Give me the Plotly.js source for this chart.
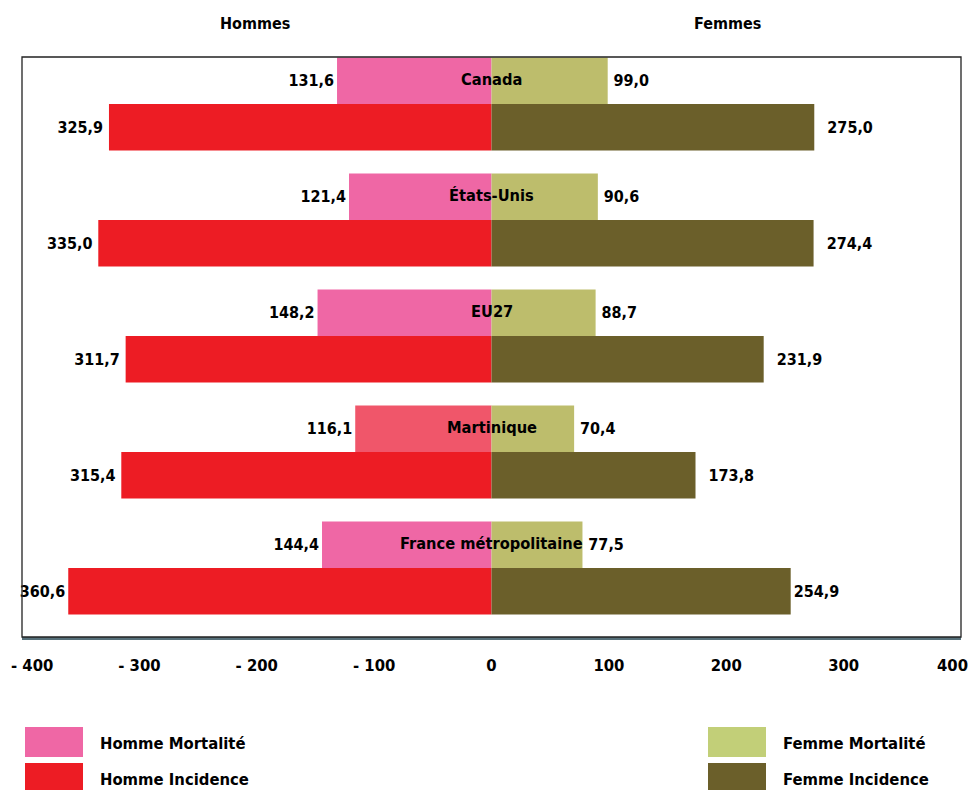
<!DOCTYPE html>
<html>
<head>
<meta charset="utf-8">
<script src="https://cdn.plot.ly/plotly-3.0.1.min.js"></script>
<style>html,body{margin:0;padding:0;background:#fff;}#chart{width:976px;height:790px;}</style>
</head>
<body>
<div id="chart"></div>
<script>
const countries = ["Canada", "États-Unis", "EU27", "Martinique", "France métropolitaine"];
const hommeMortalite = [131.6, 121.4, 148.2, 116.1, 144.4];
const hommeIncidence = [325.9, 335.0, 311.7, 315.4, 360.6];
const femmeMortalite = [99.0, 90.6, 88.7, 70.4, 77.5];
const femmeIncidence = [275.0, 274.4, 231.9, 173.8, 254.9];
const tickValues = [-400, -300, -200, -100, 0, 100, 200, 300, 400];
const tickLabels = ["- 400", "- 300", "- 200", "- 100", "0", "100", "200", "300", "400"];
const seriesNames = ["Homme Mortalité", "Homme Incidence", "Femme Mortalité", "Femme Incidence"];

const FONT = "'DejaVu Sans Condensed', 'DejaVu Sans', sans-serif";
const C_HM = "#EF67A5", C_HM_MART = "#F0566A", C_HI = "#ED1C24", C_FM = "#BDBD6C", C_FI = "#6B5F2A";
const C_FM_LEG = "#C2CF78";

const neg = a => a.map(v => -v);
const labFont = {family: FONT, size: 16, color: "#000", weight: "bold"};
const tickFont = {family: FONT, size: 16.5, color: "#000", weight: "bold"};

function fmt(v) { return v.toFixed(1).replace(".", ","); }
function barTrace(name, xs, vals, color, offset, pads, side) {
  return {
    type: "bar", orientation: "h", name: name,
    y: countries, x: xs,
    width: 0.4, offset: offset,
    marker: {color: color, line: {width: 0}},
    text: vals.map((v, i) => side === "l" ? fmt(v) + pads[i] : pads[i] + fmt(v)),
    textposition: "outside", cliponaxis: false,
    textfont: labFont, constraintext: "none",
    hoverinfo: "skip", showlegend: false
  };
}

const hmColors = countries.map(c => c === "Martinique" ? C_HM_MART : C_HM);
const T = "\u2009", E = "\u2002";
const padHM = ["", "", "", "", ""];
const padHI = [T, T, T, T, ""];
const padFM = [T, T, T, T, T];
const padFI = [E + T, E + T, E + T, E + T, ""];

const traces = [
  barTrace(seriesNames[0], neg(hommeMortalite), hommeMortalite, hmColors, -0.4, padHM, "l"),
  barTrace(seriesNames[1], neg(hommeIncidence), hommeIncidence, C_HI, 0, padHI, "l"),
  barTrace(seriesNames[2], femmeMortalite, femmeMortalite, C_FM, -0.4, padFM, "r"),
  barTrace(seriesNames[3], femmeIncidence, femmeIncidence, C_FI, 0, padFI, "r")
];

const W = 976, H = 790, ML = 22, MR = 15, MT = 57, MB = 153;
const PW = W - ML - MR, PH = H - MT - MB;
const px = x => (x - ML) / PW;
const py = y => (H - MB - y) / PH;

const annotations = countries.map(c => ({
  x: 0, y: c, xref: "x", yref: "y", yshift: 24,
  text: c, showarrow: false, font: {family: FONT, size: 16.3, color: "#000", weight: "bold"},
  xanchor: "center", yanchor: "middle"
}));
annotations.push(
  {x: px(255), y: py(24), xref: "paper", yref: "paper", text: "Hommes", showarrow: false,
   font: labFont, xanchor: "center", yanchor: "middle"},
  {x: px(727), y: py(24), xref: "paper", yref: "paper", text: "Femmes", showarrow: false,
   font: labFont, xanchor: "center", yanchor: "middle"}
);

// edge tick labels, kept inside the page like in the reference
const nT = tickValues.length;
annotations.push(
  {x: tickValues[0], y: py(665), xref: "x", yref: "paper", text: tickLabels[0], showarrow: false,
   xanchor: "left", yanchor: "middle", xshift: -13, font: tickFont},
  {x: tickValues[nT - 1], y: py(665), xref: "x", yref: "paper", text: tickLabels[nT - 1], showarrow: false,
   xanchor: "right", yanchor: "middle", xshift: 9, font: tickFont}
);

const legendItems = [
  {name: seriesNames[0], color: C_HM, x: 25, y: 727},
  {name: seriesNames[1], color: C_HI, x: 25, y: 763},
  {name: seriesNames[2], color: C_FM_LEG, x: 708, y: 727},
  {name: seriesNames[3], color: C_FI, x: 708, y: 763}
];
const shapes = [
  {type: "rect", xref: "paper", yref: "paper", x0: 0, x1: 1, y0: 0, y1: 1,
   line: {color: "#222", width: 1.3}, layer: "above"}
];
legendItems.forEach(it => {
  shapes.push({type: "rect", xref: "paper", yref: "paper",
    x0: px(it.x), x1: px(it.x + 58), y0: py(it.y), y1: py(it.y + 30),
    fillcolor: it.color, line: {width: 0}});
  annotations.push({x: px(it.x + 73), y: py(it.y + 16), xref: "paper", yref: "paper",
    text: it.name, showarrow: false, xanchor: "left", yanchor: "middle",
    font: {family: FONT, size: 16.5, color: "#000", weight: "bold"}});
});

const layout = {
  width: W, height: H,
  margin: {l: ML, r: MR, t: MT, b: MB, pad: 0},
  paper_bgcolor: "#fff", plot_bgcolor: "#fff",
  barmode: "overlay", showlegend: false,
  xaxis: {
    range: [-400, 400],
    tickvals: tickValues.slice(1, nT - 1), ticktext: tickLabels.slice(1, nT - 1),
    showgrid: false, zeroline: false, showline: true, linecolor: "#56707A", linewidth: 2.5,
    ticks: "", ticklabelstandoff: 12,
    tickfont: tickFont
  },
  yaxis: {
    type: "category", categoryorder: "array", categoryarray: countries,
    range: [4.595, -0.405], showticklabels: false, showgrid: false, zeroline: false, ticks: ""
  },
  annotations: annotations,
  shapes: shapes
};

Plotly.newPlot("chart", traces, layout, {displayModeBar: false, staticPlot: true});
</script>
</body>
</html>
